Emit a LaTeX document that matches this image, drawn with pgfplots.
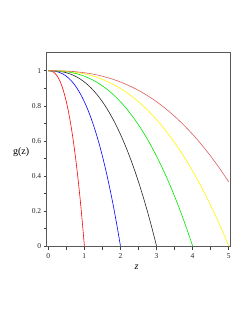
\documentclass[border=0pt]{standalone}
\usepackage{pgfplots}
\usepackage{pgfplotstable}
\pgfplotsset{compat=1.18}
\usepackage{fontspec}
\setmainfont{Liberation Serif}
\definecolor{cbrown}{RGB}{215,95,95}
\definecolor{cgreen}{RGB}{0,230,0}
\definecolor{cyellow}{RGB}{255,245,0}
% columns: z for curves ending at 1,2,3,4,5 and common g
\pgfplotstableread{
g       za    zb    zc    zd    ze
1.00000 0.00 0.00 0.00 0.00 0.00
0.99944 0.05 0.10 0.15 0.20 0.25
0.99684 0.10 0.20 0.30 0.40 0.50
0.99129 0.15 0.30 0.45 0.60 0.75
0.98211 0.20 0.40 0.60 0.80 1.00
0.96875 0.25 0.50 0.75 1.00 1.25
0.95071 0.30 0.60 0.90 1.20 1.50
0.92753 0.35 0.70 1.05 1.40 1.75
0.89881 0.40 0.80 1.20 1.60 2.00
0.86416 0.45 0.90 1.35 1.80 2.25
0.82322 0.50 1.00 1.50 2.00 2.50
0.77566 0.55 1.10 1.65 2.20 2.75
0.72115 0.60 1.20 1.80 2.40 3.00
0.65937 0.65 1.30 1.95 2.60 3.25
0.59004 0.70 1.40 2.10 2.80 3.50
0.51286 0.75 1.50 2.25 3.00 3.75
0.42757 0.80 1.60 2.40 3.20 4.00
0.33389 0.85 1.70 2.55 3.40 4.25
0.23157 0.90 1.80 2.70 3.60 4.50
0.12035 0.95 1.90 2.85 3.80 4.75
0.00000 1.00 2.00 3.00 4.00 5.00
}\curves
\pgfplotstableread{
z    g
0.00 1.00000
0.25 0.99965
0.50 0.99800
0.75 0.99448
1.00 0.98866
1.25 0.98019
1.50 0.96875
1.75 0.95406
2.00 0.93585
2.25 0.91389
2.50 0.88793
2.75 0.85778
3.00 0.82322
3.25 0.78406
3.50 0.74011
3.75 0.69118
4.00 0.63711
4.25 0.57772
4.50 0.51286
4.75 0.44236
5.00 0.36606
}\curvesix
\begin{document}
\begin{tikzpicture}
\path[use as bounding box] (0pt,0pt) rectangle (249pt,323pt);
\begin{axis}[
  at={(46.7pt,76.3pt)}, anchor=south west,
  scale only axis, width=183.3pt, height=194pt,
  xmin=-0.044, xmax=5.036, ymin=-0.004, ymax=1.103,
  xtick={0,1,2,3,4,5}, ytick={0,0.2,0.4,0.6,0.8,1},
  yticklabels={0,0.2,0.4,0.6,0.8,1},
  xticklabels={0,1,2,3,4,5},
  minor x tick num=1, minor y tick num=1,
  tick align=outside, tick pos=left,
  major tick length=3pt, minor tick length=3pt,
  every tick/.style={black!75, line width=0.5pt},
  axis line style={black!65, line width=0.6pt},
  ticklabel style={font=\fontsize{7.5}{8}\selectfont, black!85},
  yticklabel style={xshift=1pt},
  xlabel={\fontsize{10}{12}\selectfont\itshape z},
  xlabel style={at={(axis description cs:0.49,0)}, anchor=north, yshift=-15pt},
  ylabel={\fontsize{10}{12}\selectfont g(z)},
  ylabel style={rotate=-90, at={(axis description cs:0,0.49)}, anchor=east, xshift=-14pt},
  clip=false,
  every axis plot/.style={line width=0.6pt, no markers, smooth},
]
\addplot[red] table[x=za, y=g] {\curves};
\addplot[blue] table[x=zb, y=g] {\curves};
\addplot[black!85] table[x=zc, y=g] {\curves};
\addplot[cgreen] table[x=zd, y=g] {\curves};
\addplot[cyellow] table[x=ze, y=g] {\curves};
\addplot[cbrown] table[x=z, y=g] {\curvesix};
\end{axis}
\end{tikzpicture}
\end{document}
